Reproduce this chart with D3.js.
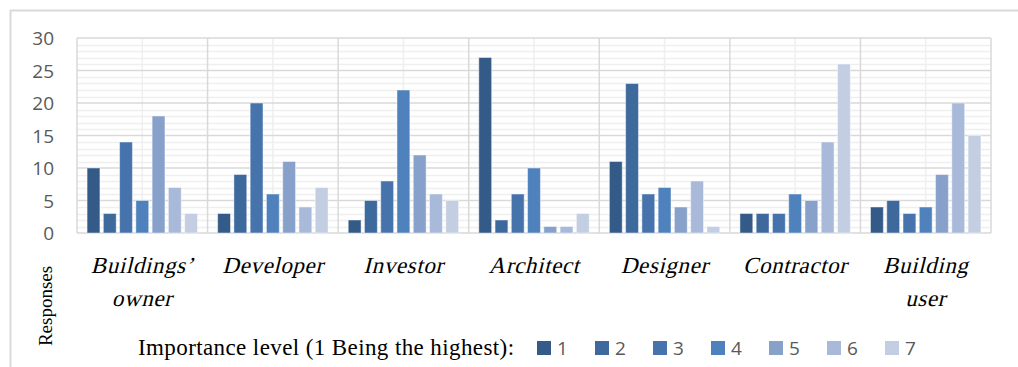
<!DOCTYPE html>
<html>
<head>
<meta charset="utf-8">
<script src="https://cdn.jsdelivr.net/npm/d3@7"></script>
<style>
  html, body { margin: 0; padding: 0; background: #ffffff; }
  svg { display: block; }
</style>
</head>
<body>
<svg id="chart" width="1018" height="367"></svg>
<script>
// Stakeholder groups along the x axis (line breaks mark wrapped labels)
const categories = [
  ["Buildings\u2019", "owner"],
  ["Developer"],
  ["Investor"],
  ["Architect"],
  ["Designer"],
  ["Contractor"],
  ["Building", "user"]
];

// Importance levels (series)
const levels = ["1", "2", "3", "4", "5", "6", "7"];

// Number of responses for each importance level, one array per group
const buildingsOwner = [10, 3, 14, 5, 18, 7, 3];
const developer      = [3, 9, 20, 6, 11, 4, 7];
const investor       = [2, 5, 8, 22, 12, 6, 5];
const architect      = [27, 2, 6, 10, 1, 1, 3];
const designer       = [11, 23, 6, 7, 4, 8, 1];
const contractor     = [3, 3, 3, 6, 5, 14, 26];
const buildingUser   = [4, 5, 3, 4, 9, 20, 15];

const yTicks = [0, 5, 10, 15, 20, 25, 30];
const legendTitle = "Importance level (1 Being the highest):";
const yTitle = "Responses";

const seriesColors = ["#345a88", "#3e699c", "#4773ad", "#4f81bd", "#87a1cb", "#a9b9d9", "#c3cee2"];

const values = [buildingsOwner, developer, investor, architect, designer, contractor, buildingUser];
const rows = categories.map((c, i) => ({ key: c.join(" "), lines: c, vals: values[i] }));

const serif = "'Liberation Serif', 'Times New Roman', serif";
const sans = "'Open Sans', 'Liberation Sans', sans-serif";

const svg = d3.select("#chart");

// outer frame
svg.append("line").attr("x1", 10).attr("x2", 1018).attr("y1", 10.5).attr("y2", 10.5)
  .attr("stroke", "#d9d9d9").attr("stroke-width", 2);
svg.append("line").attr("x1", 10.5).attr("x2", 10.5).attr("y1", 10).attr("y2", 367)
  .attr("stroke", "#d9d9d9").attr("stroke-width", 2);

const plot = { left: 77, right: 991, top: 38, bottom: 233 };

const x0 = d3.scaleBand().domain(rows.map(r => r.key))
  .range([plot.left, plot.right]).paddingInner(0).paddingOuter(0);
const x1 = d3.scaleBand().domain(levels)
  .range([0, x0.bandwidth()]).paddingInner(0.21).paddingOuter(0.62);
const y = d3.scaleLinear().domain([0, 30]).range([plot.bottom, plot.top]);

const grid = svg.append("g");

// minor horizontal gridlines (every unit)
grid.selectAll("line.minor").data(d3.range(0, 31).filter(v => v % 5 !== 0))
  .join("line").attr("class", "minor")
  .attr("x1", plot.left).attr("x2", plot.right)
  .attr("y1", d => Math.round(y(d)) + 0.5).attr("y2", d => Math.round(y(d)) + 0.5)
  .attr("stroke", "#efefef").attr("stroke-width", 1.5);

// minor vertical gridlines at group midpoints
grid.selectAll("line.vmid").data(rows)
  .join("line").attr("class", "vmid")
  .attr("x1", d => x0(d.key) + x0.bandwidth() / 2).attr("x2", d => x0(d.key) + x0.bandwidth() / 2)
  .attr("y1", plot.top).attr("y2", plot.bottom)
  .attr("stroke", "#efefef").attr("stroke-width", 1.5);

// major horizontal gridlines
grid.selectAll("line.major").data(yTicks)
  .join("line").attr("class", "major")
  .attr("x1", plot.left).attr("x2", plot.right)
  .attr("y1", d => y(d)).attr("y2", d => y(d))
  .attr("stroke", "#d9d9d9").attr("stroke-width", 1.5);

// group boundaries
const bounds = rows.map(r => x0(r.key)).concat([plot.right]);
grid.selectAll("line.vmaj").data(bounds)
  .join("line").attr("class", "vmaj")
  .attr("x1", d => d).attr("x2", d => d)
  .attr("y1", plot.top).attr("y2", plot.bottom)
  .attr("stroke", "#d9d9d9").attr("stroke-width", 1.5);

// bars
const groups = svg.append("g").selectAll("g").data(rows).join("g")
  .attr("transform", d => `translate(${x0(d.key)},0)`);
groups.selectAll("rect").data(d => d.vals.map((v, i) => ({ level: levels[i], v, i })))
  .join("rect")
  .attr("x", d => x1(d.level))
  .attr("y", d => y(d.v))
  .attr("width", x1.bandwidth())
  .attr("height", d => y(0) - y(d.v))
  .attr("fill", d => seriesColors[d.i])
  .attr("stroke", "rgba(255,255,255,0.45)")
  .attr("stroke-width", 1);

// y axis
const yAxis = d3.axisLeft(y).tickValues(yTicks).tickSize(0).tickPadding(0);
const ya = svg.append("g").attr("transform", `translate(54,0)`).call(yAxis);
ya.select(".domain").remove();
ya.selectAll("text")
  .attr("font-family", sans)
  .attr("font-size", 19).attr("fill", "#595959").attr("dy", "0.36em");

// category labels: serif, slanted
const labels = svg.append("g").selectAll("text").data(rows).join("text")
  .attr("transform", d => `translate(${x0(d.key) + x0.bandwidth() / 2},273) skewX(-14)`)
  .attr("text-anchor", "middle")
  .attr("font-family", serif)
  .attr("font-size", 23)
  .attr("letter-spacing", 0.6)
  .attr("fill", "#000");
labels.selectAll("tspan").data(d => d.lines).join("tspan")
  .attr("x", (d, i) => i === 0 ? 0 : 8)
  .attr("y", (d, i) => i * 33)
  .text(d => d);

// y axis title
svg.append("text")
  .attr("transform", "translate(52,306) rotate(-90)")
  .attr("text-anchor", "middle")
  .attr("font-family", serif)
  .attr("font-size", 19).attr("fill", "#000")
  .text(yTitle);

// legend
svg.append("text")
  .attr("x", 138).attr("y", 355)
  .attr("font-family", serif)
  .attr("font-size", 23)
  .attr("letter-spacing", 0.4)
  .attr("fill", "#000")
  .text(legendTitle);

const legendX = d3.scalePoint().domain(levels).range([537, 885]);
const li = svg.append("g").selectAll("g").data(levels).join("g")
  .attr("transform", d => `translate(${legendX(d)},341)`);
li.append("rect").attr("width", 14).attr("height", 14)
  .attr("fill", (d, i) => seriesColors[i]);
li.append("text").attr("x", 20).attr("y", 14)
  .attr("font-family", sans)
  .attr("font-size", 19).attr("fill", "#595959")
  .text(d => d);
</script>
</body>
</html>
